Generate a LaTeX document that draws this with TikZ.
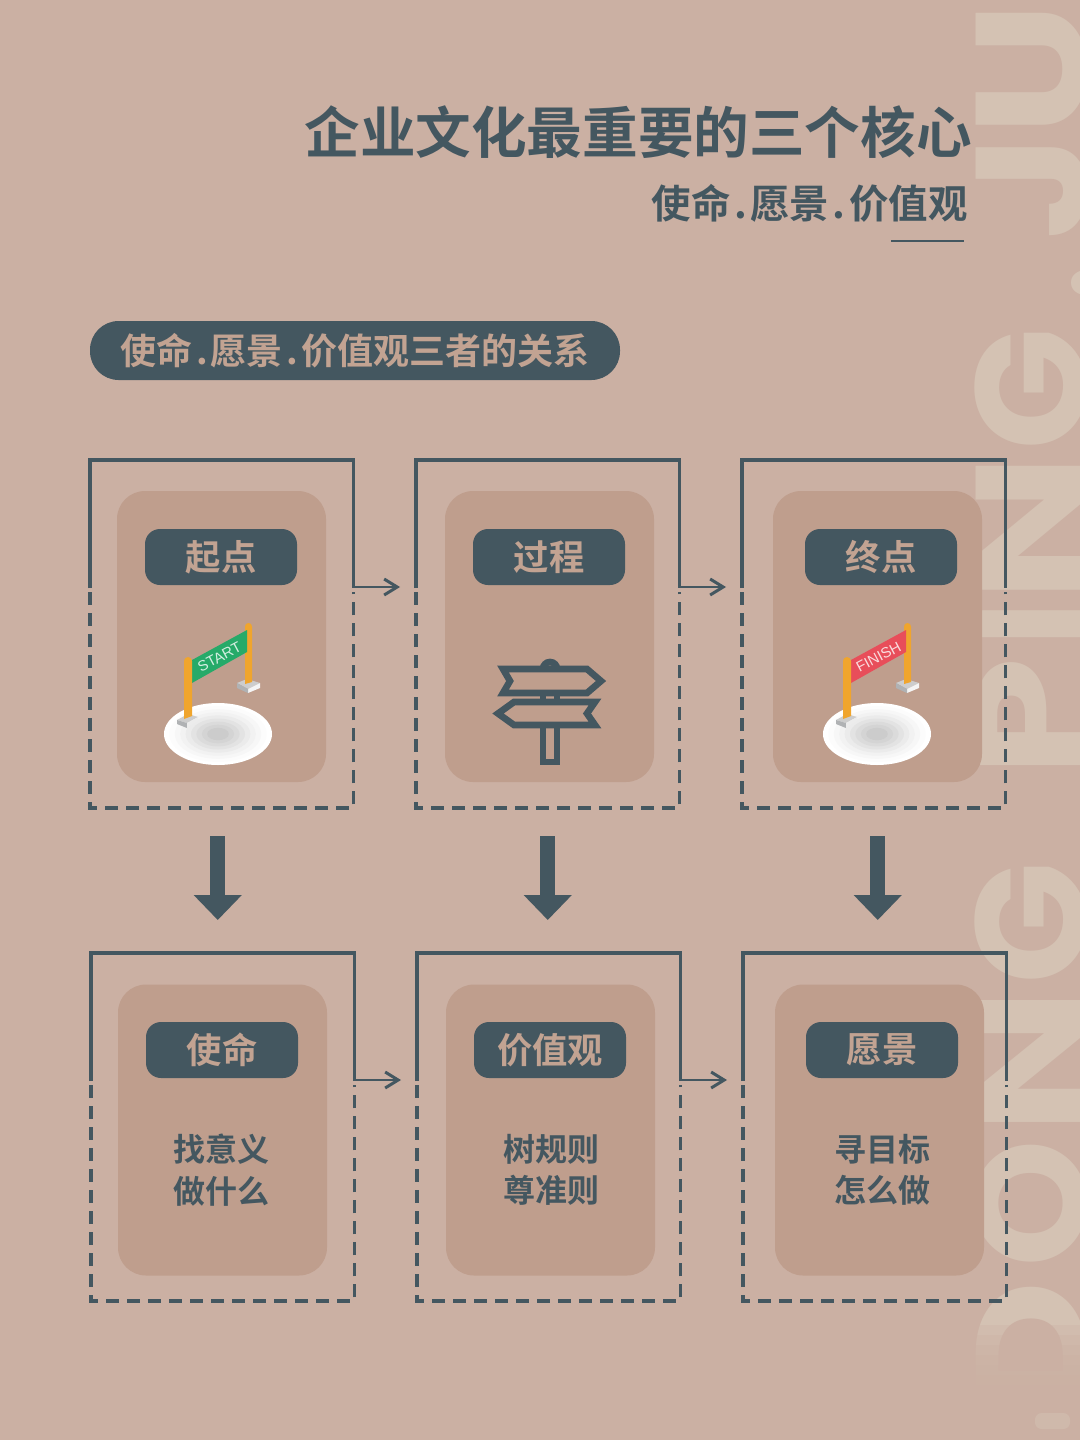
\documentclass[tikz,border=0pt]{standalone}
\usepackage{fontspec}
\setmainfont{Noto Sans CJK SC}[BoldFont={Noto Sans CJK SC Bold}]
\newfontfamily\cjkb{Noto Sans CJK SC Bold}
\newfontfamily\wmfont{Poppins Bold}
\newfontfamily\flagfont{Liberation Sans}
\usetikzlibrary{arrows.meta,calc}
\definecolor{bgc}{RGB}{203,176,163}
\definecolor{wmc}{RGB}{212,194,179}
\definecolor{cardc}{RGB}{191,158,141}
\definecolor{darkc}{RGB}{68,87,96}
\definecolor{tanc}{RGB}{194,163,146}
\definecolor{polec}{RGB}{240,165,45}
\definecolor{startc}{RGB}{38,170,105}
\definecolor{finishc}{RGB}{232,78,90}
\definecolor{baseL}{RGB}{176,178,180}
\definecolor{baseT}{RGB}{205,205,205}
\newcommand\fsz[1]{\fontsize{#1}{#1}\selectfont}
\newcommand\dotsp{\hspace{.09em}.\hspace{.09em}}
% one watermark letter whose inked width is #1 px
\newdimen\wlL \newdimen\wlR \newdimen\wlI
\newcommand\wl[2]{%
  \wlL=\XeTeXglyphbounds1 \XeTeXcharglyph`#2\relax
  \wlR=\XeTeXglyphbounds3 \XeTeXcharglyph`#2\relax
  \setbox0=\hbox{#2}%
  \wlI=\wd0 \advance\wlI by -\wlL \advance\wlI by -\wlR
  \pgfmathsetmacro\wlS{#1*0.75/(\wlI/1pt)}%
  \scalebox{\wlS}[1]{\kern-\wlL\copy0\kern-\wlR}%
}
\newcommand\wg[1]{\kern #1\dimexpr0.75pt\relax}
\tikzset{
  frameBox/.style={minimum width=197.6pt,minimum height=261pt,inner sep=0pt,outer sep=0pt},
  cardBox/.style={fill=cardc,rounded corners=21pt,minimum width=156.75pt,minimum height=218.25pt,inner sep=0pt},
  labelPill/.style={fill=darkc,rounded corners=11.25pt,minimum width=114pt,minimum height=42pt,inner sep=0pt,text=tanc,font=\cjkb\fsz{26.5}},
  bodyText/.style={text=darkc,font=\cjkb\fsz{24},align=center,inner sep=0pt},
  frameSolid/.style={draw=darkc,line width=2.3pt},
  frameDash/.style={draw=darkc,line width=2.3pt,dash pattern=on 9.75pt off 6pt},
  flowArrow/.style={draw=darkc,line width=1.9pt,-{Straight Barb[length=9.75pt,width=12pt,line width=2.25pt]}},
  bigArrow/.style={draw=darkc,line width=11.25pt,-{Triangle[length=18.75pt,width=35pt]}},
  signLine/.style={draw=darkc,line width=5pt,line join=miter},
}
\newcommand\flagicon[3]{% xshift, color, text
  \begin{scope}[shift={(#1,0)}]
    \foreach \s/\g in {1/0,.9/1,.8/3,.7/5,.6/8,.5/11,.4/14,.3/17,.2/20}{
      \fill[black!\g!white] (218,734) ellipse ({54*\s} and {31*\s});
    }
    \fill[baseT] (237,683) -- (247,679) -- (260,683) -- (248,689) -- cycle;
    \fill[white!92!gray] (260,683) -- (260,688) -- (248,693) -- (248,689) -- cycle;
    \fill[baseL] (237,683) -- (237,688) -- (248,693) -- (248,689) -- cycle;
    \fill[polec] (245,626.5) arc[start angle=180,end angle=360,radius=3.5] -- (252,682) -- (245,684) -- cycle;
    \fill[#2] (192,660) -- (247,630) -- (247,652) -- (192,683) -- cycle;
    \node[rotate=28,text=white!80!#2,font=\flagfont\fsz{11}] (#3) at (219.5,657) {#3};
    \fill[baseT] (177,720) -- (188,714) -- (198,717) -- (187,723) -- cycle;
    \fill[baseL] (177,720) -- (177,724) -- (187,728) -- (187,723) -- cycle;
    \fill[white!85!gray] (198,717) -- (198,721) -- (187,728) -- (187,723) -- cycle;
    \fill[polec] (184,661) arc[start angle=180,end angle=360,radius=4] -- (192,716) -- (184,719) -- cycle;
  \end{scope}
}
\begin{document}
\begin{tikzpicture}[x=0.75pt,y=-0.75pt]
\useasboundingbox (0,0) rectangle (1080,1440);
\fill[bgc] (0,0) rectangle (1080,1440);
% watermark lettering
\begin{scope}
\clip (0,0) rectangle (1080,1440);
\node[rotate=90,anchor=base west,inner sep=0pt,outer sep=0pt,text=wmc] (wm) at (1086,1402)
  {\wmfont\fsz{118}\wl{115}{D}\wg{25}\wl{117}{O}\wg{23}\wl{122}{N}\wg{21}\wl{112}{G}\wg{101}\wl{103}{P}\wg{25}\wl{27}{I}\wg{21}\wl{124}{N}\wg{21}\wl{112}{G}\wg{37}\raisebox{-10pt}{\wl{25}{.}}\wg{35}\wl{88}{J}\wg{23}\wl{112}{U}};
\foreach \yy in {1325,1335,...,1385}{
  \fill[bgc,opacity=.3] (960,\yy) rectangle (1080,1440);
}
\end{scope}
\fill[wmc,opacity=.5,rounded corners=5pt] (1035,1413) rectangle (1070,1429);

% heading
\node[anchor=east,inner sep=0pt,text=darkc,font=\cjkb\fsz{41.7}] (title) at (972,132) {企业文化最重要的三个核心};
\node[anchor=east,inner sep=0pt,text=darkc,font=\cjkb\fsz{29.6}] (subtitle) at (968,203) {使命\dotsp 愿景\dotsp 价值观};
\coordinate (ruleA) at (891,241);
\coordinate (ruleB) at (964,241);
\draw[darkc,line width=1.9pt] (ruleA) -- (ruleB);
\node[fill=darkc,rounded corners=21.5pt,minimum width=397.5pt,minimum height=44.25pt,inner sep=0pt,text=tanc,font=\cjkb\fsz{27}] (banner) at (355,350.5)
  {使命\dotsp 愿景\dotsp 价值观三者的关系};

% cells
\foreach \n/\fx/\fy/\cx/\cy/\qx/\qy/\lab in {
  1/221.75/634/221.5/636.5/221/557/起点,
  2/547.75/634/549.5/636.5/549/557/过程,
  3/873.75/634/877.5/636.5/881/557/终点,
  4/222.75/1127/222.5/1130/222/1050/使命,
  5/548.75/1127/550.5/1130/550/1050/价值观,
  6/874.75/1127/879.5/1130/882/1050/愿景}{
  \node[frameBox] (f\n) at (\fx,\fy) {};
  \node[cardBox] (c\n) at (\cx,\cy) {};
  \node[labelPill] (p\n) at (\qx,\qy) {\lab};
  \draw[frameSolid] ([yshift=34.5pt]f\n.west) |- (f\n.north) -| ([yshift=34.5pt]f\n.east);
  \draw[frameDash] ([yshift=31.5pt]f\n.west) |- (f\n.south) -| ([yshift=31.5pt]f\n.east);
}

% body texts
\node[bodyText] (t4) at (221,1170) {找意义\\[7pt]做什么};
\node[bodyText] (t5) at (551,1170) {树规则\\[7pt]尊准则};
\node[bodyText] (t6) at (882,1170) {寻目标\\[7pt]怎么做};

% horizontal arrows
\foreach \a/\b in {1/2,2/3,4/5,5/6}{
  \draw[flowArrow,shorten >=12pt] ([yshift=35.25pt]f\a.east) -- ([yshift=35.25pt]f\b.west);
}
% vertical arrows
\draw[bigArrow,shorten <=21pt,shorten >=24.75pt] ([xshift=-3pt]f1.south) -- ([xshift=-3pt]f1.south |- f4.north);
\draw[bigArrow,shorten <=21pt,shorten >=24.75pt] (f2.south) -- (f2.south |- f5.north);
\draw[bigArrow,shorten <=21pt,shorten >=24.75pt] ([xshift=3pt]f3.south) -- ([xshift=3pt]f3.south |- f6.north);

% flags
\flagicon{0}{startc}{START}
\flagicon{659}{finishc}{FINISH}

% signpost
\draw[signLine] (543,669) arc[start angle=180,end angle=360,radius=7];
\draw[signLine] (543,693) -- (543,702) (557,693) -- (557,702);
\draw[signLine] (543,725) -- (543,762) -- (557,762) -- (557,725);
\draw[signLine] (503,669) -- (587,669) -- (601,681) -- (587,693) -- (503,693) -- (510,681) -- cycle;
\draw[signLine] (595,702) -- (514,702) -- (498,713.5) -- (514,725) -- (595,725) -- (587,713.5) -- cycle;
\end{tikzpicture}
\end{document}
